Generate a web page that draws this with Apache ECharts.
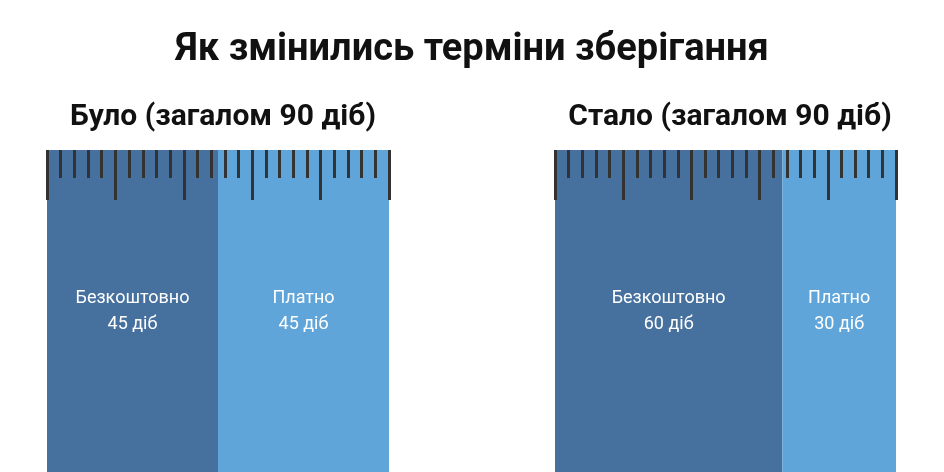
<!DOCTYPE html><html><head><meta charset="utf-8"><script src="https://cdn.jsdelivr.net/npm/echarts@6/dist/echarts.min.js"></script></head><body style="margin:0"><div id="c" style="width:944px;height:472px"></div><script>
const panelTitles=['Було (загалом 90 діб)','Стало (загалом 90 діб)'];
const segNames=['Безкоштовно','Платно'];
const freeDays=[45,60];
const paidDays=[45,30];
const total=90;
const colors=['#46709e','#5fa5da'];
const grids=[{left:47,width:342,top:150,bottom:0},{left:555,width:341,top:150,bottom:0}];
const xAxis=[],yAxis=[],series=[];
grids.forEach((g,i)=>{
  [[3.6,28],[18,50]].forEach(([iv,len],k)=>{
    xAxis.push({type:'value',gridIndex:i,min:0,max:total,interval:iv,position:'top',axisLabel:{show:false},splitLine:{show:false},axisLine:{show:false},axisTick:{show:true,inside:true,length:len,lineStyle:{color:'#333',width:3}},z:10});
  });
  yAxis.push({type:'category',gridIndex:i,data:['x'],show:false});
  [freeDays[i],paidDays[i]].forEach((v,j)=>{
    series.push({type:'bar',xAxisIndex:i*2,yAxisIndex:i,stack:'s'+i,data:[v],barWidth:'100%',itemStyle:{color:colors[j]},z:1,
      label:{show:true,position:'inside',color:'#fff',fontSize:18,lineHeight:26,fontFamily:'Roboto',formatter:segNames[j]+'\n'+v+' діб'}});
  });
});
echarts.init(document.getElementById('c')).setOption({
  animation:false,
  title:[{text:'Як змінились терміни зберігання',left:'center',top:26,textStyle:{fontSize:38,fontWeight:'bold',color:'#111',fontFamily:'Roboto'}},
    {text:panelTitles[0],left:218,textAlign:'center',top:97,textStyle:{fontSize:30,fontWeight:'bold',color:'#111',fontFamily:'Roboto'}},
    {text:panelTitles[1],left:725,textAlign:'center',top:97,textStyle:{fontSize:30,fontWeight:'bold',color:'#111',fontFamily:'Roboto'}}],
  grid:grids,xAxis,yAxis,series});
</script></body></html>
